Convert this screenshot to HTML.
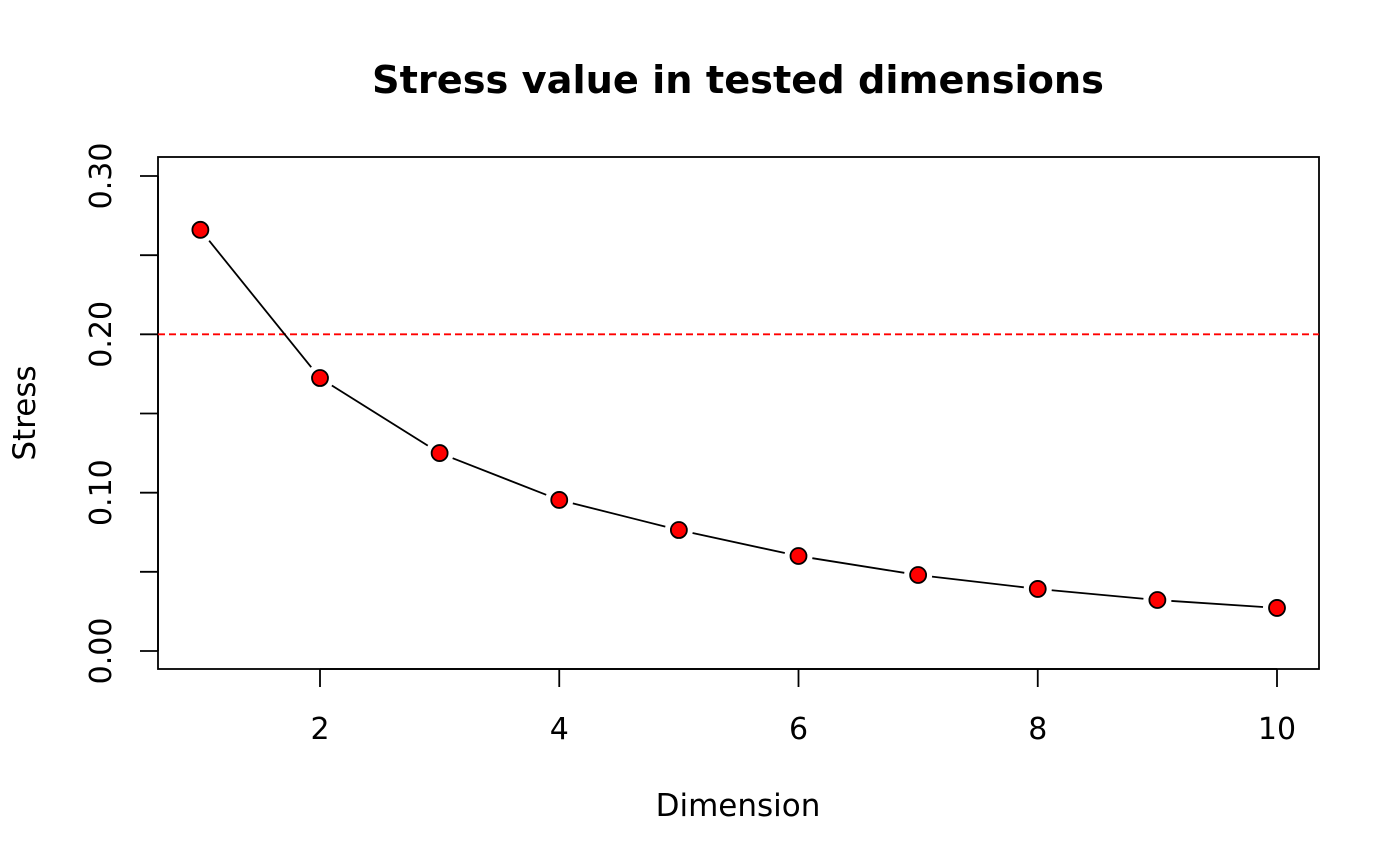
<!DOCTYPE html>
<html>
<head>
<meta charset="utf-8">
<style>
html,body{margin:0;padding:0;background:#fff;}
svg{display:block;font-family:"DejaVu Sans","Liberation Sans",sans-serif;}
</style>
</head>
<body>
<svg id="chart" width="1400" height="866" viewBox="0 0 1400 866">
  <rect width="1400" height="866" fill="#fff"/>
  <text x="738" y="93" text-anchor="middle" font-size="38.3" font-weight="bold">Stress value in tested dimensions</text>
  <rect x="158" y="157" width="1161" height="512" fill="none" stroke="#000" stroke-width="1.8"/>
  <g id="xaxis"></g>
  <g id="yaxis"></g>
  <text x="738" y="816" text-anchor="middle" font-size="31">Dimension</text>
  <text transform="translate(35,413) rotate(-90)" text-anchor="middle" font-size="31">Stress</text>
  <g id="marks"></g>
</svg>
<script>
const dimensions = [1,2,3,4,5,6,7,8,9,10];
const stressValues = [0.266,0.1724,0.125,0.0954,0.0764,0.060,0.048,0.0392,0.0322,0.0272];
const xTicks = [2,4,6,8,10];
const yTicks = [0,0.05,0.10,0.15,0.20,0.25,0.30];
const yTickLabels = ["0.00","","0.10","","0.20","","0.30"];
const threshold = 0.20;

const NS = "http://www.w3.org/2000/svg";
function xs(v){ return 320 + (v - 2) * 119.625; }
function ys(v){ return 651 - v * 1583.33; }
function mk(tag, attrs, parent){
  const e = document.createElementNS(NS, tag);
  for (const k in attrs) e.setAttribute(k, attrs[k]);
  parent.appendChild(e);
  return e;
}
const xa = document.getElementById('xaxis');
const ya = document.getElementById('yaxis');
const marks = document.getElementById('marks');

mk('line',{x1:xs(xTicks[0]),x2:xs(xTicks[xTicks.length-1]),y1:669,y2:669,stroke:'#000','stroke-width':1.8},xa);
xTicks.forEach(t=>{
  const l = mk('line',{x1:xs(t),x2:xs(t),y1:669,y2:687,stroke:'#000','stroke-width':1.8},xa);
  
  
  const tx = mk('text',{x:xs(t),y:739,'text-anchor':'middle','font-size':30},xa);
  tx.textContent = t;
  
  
});

mk('line',{x1:158,x2:158,y1:ys(yTicks[0]),y2:ys(yTicks[yTicks.length-1]),stroke:'#000','stroke-width':1.8},ya);
yTicks.forEach((t,i)=>{
  const l = mk('line',{x1:140,x2:158,y1:ys(t),y2:ys(t),stroke:'#000','stroke-width':1.8},ya);
  
  
  if (yTickLabels[i]) {
    const tx = mk('text',{transform:`translate(111,${ys(t)}) rotate(-90)`,'text-anchor':'middle','font-size':30},ya);
    tx.textContent = yTickLabels[i];
    
    
  }
});

const th = mk('line',{x1:158,x2:1319,y1:ys(threshold),y2:ys(threshold),stroke:'#ff0000','stroke-width':1.8,'stroke-dasharray':'7,4'},marks);



const gap = 14;
for (let i=0;i<dimensions.length-1;i++){
  const x1=xs(dimensions[i]), y1=ys(stressValues[i]);
  const x2=xs(dimensions[i+1]), y2=ys(stressValues[i+1]);
  const d=Math.hypot(x2-x1,y2-y1);
  if (d <= 2*gap) continue;
  const ux=(x2-x1)/d, uy=(y2-y1)/d;
  const s = mk('line',{x1:x1+ux*gap,y1:y1+uy*gap,x2:x2-ux*gap,y2:y2-uy*gap,stroke:'#000','stroke-width':1.8},marks);
  
  
}
dimensions.forEach((d,i)=>{
  const c = mk('circle',{cx:xs(d),cy:ys(stressValues[i]),r:8,fill:'#ff0000',stroke:'#000','stroke-width':1.8},marks);
  
  
});
</script>
</body>
</html>
